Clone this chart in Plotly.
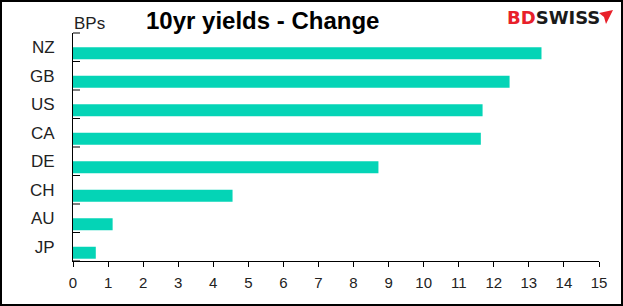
import plotly.graph_objects as go

countries = ["NZ", "GB", "US", "CA", "DE", "CH", "AU", "JP"]
changes = [13.36, 12.45, 11.68, 11.63, 8.71, 4.55, 1.13, 0.65]
x_ticks = list(range(0, 16))

W, H = 623, 306
L, R, T, B = 73, 24, 33, 45
pw, ph = W - L - R, H - T - B

def px(x):
    return (x - L) / pw

def py(y):
    return 1 - (y - T) / ph

fig = go.Figure(go.Bar(
    x=changes, y=countries, orientation="h",
    marker=dict(color="#04D4B6", line=dict(width=0)),
    width=0.42, offset=-0.42,
))

fig.update_layout(
    width=W, height=H,
    margin=dict(l=L, r=R, t=T, b=B),
    paper_bgcolor="white", plot_bgcolor="white",
    showlegend=False,
    font=dict(family="Liberation Sans, Arial", color="#000"),
)
fig.update_xaxes(
    range=[0, 15], tickvals=x_ticks, ticktext=[str(v) for v in x_ticks],
    showgrid=False, zeroline=False, showline=True, linecolor="black", linewidth=1,
    ticks="outside", ticklen=5, tickcolor="black", tickwidth=1,
    tickfont=dict(size=15, color="#222"), ticklabelstandoff=3,
)
fig.update_yaxes(
    categoryorder="array", categoryarray=countries[::-1],
    showgrid=False, zeroline=False, showline=True, linecolor="black", linewidth=1,
    ticks="", tickfont=dict(size=17, color="#222"), ticklabelstandoff=14,
)

shapes = []
n = len(countries)
for i in range(n + 1):
    yv = i / n
    shapes.append(dict(type="line", xref="paper", yref="paper",
                       x0=0, x1=7 / pw, y0=yv, y1=yv,
                       line=dict(color="black", width=1)))
# frame border
shapes.append(dict(type="rect", xref="paper", yref="paper",
                   x0=px(1), x1=px(W - 1), y0=py(H - 1), y1=py(1),
                   line=dict(color="black", width=2), fillcolor="rgba(0,0,0,0)",
                   layer="above"))
# logo arrow mark
pts = [(599, 13), (613, 10), (606, 24), (604, 17)]
path = "M " + " L ".join(f"{px(a):.5f},{py(b):.5f}" for a, b in pts) + " Z"
shapes.append(dict(type="path", xref="paper", yref="paper", path=path,
                   fillcolor="#E8202A", line=dict(width=0)))
fig.update_layout(shapes=shapes)

ann = [
    dict(text="<b>10yr yields - Change</b>", x=px(262.5), y=py(20.5), xref="paper", yref="paper",
         showarrow=False, font=dict(size=24, color="black"), xanchor="center", yanchor="middle"),
    dict(text="BPs", x=px(72), y=py(23), xref="paper", yref="paper",
         showarrow=False, font=dict(size=17, color="#222"), xanchor="left", yanchor="middle"),
    dict(text="<b><span style='color:#E8202A'>BD</span><span style='color:#1a1a1a'>SWISS</span></b>",
         x=px(505), y=py(18), xref="paper", yref="paper",
         showarrow=False, font=dict(size=18, family="DejaVu Sans"), xanchor="left", yanchor="middle"),
]
fig.update_layout(annotations=ann)

fig.write_html("out.html")
